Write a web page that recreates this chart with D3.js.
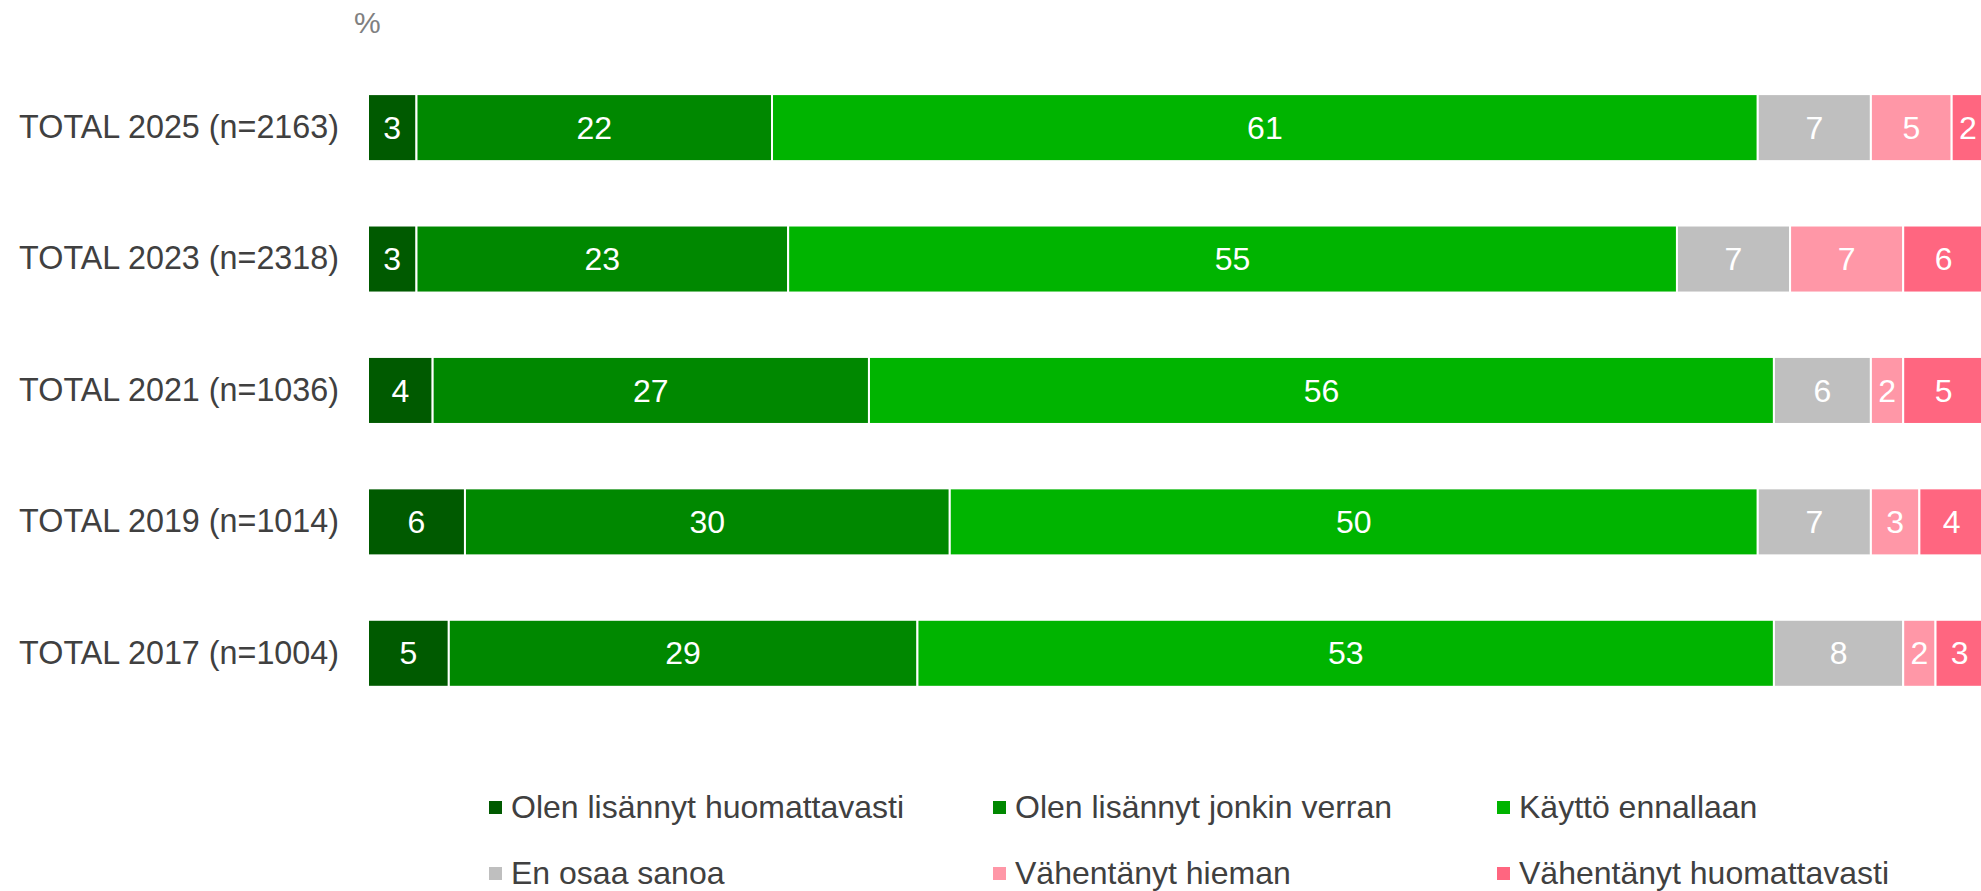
<!DOCTYPE html>
<html><head><meta charset="utf-8">
<script src="https://cdn.jsdelivr.net/npm/d3@7"></script>
<style>html,body{margin:0;padding:0;background:#fff;overflow:hidden}svg{display:block;font-family:"Liberation Sans",Arial,sans-serif}</style>
</head><body>
<svg id="chart" width="1981" height="891"></svg>
<script>
const categories = ["TOTAL 2025 (n=2163)","TOTAL 2023 (n=2318)","TOTAL 2021 (n=1036)","TOTAL 2019 (n=1014)","TOTAL 2017 (n=1004)"];
const seriesNames = ["Olen lisännyt huomattavasti","Olen lisännyt jonkin verran","Käyttö ennallaan","En osaa sanoa","Vähentänyt hieman","Vähentänyt huomattavasti"];
const increasedALot   = [3, 3, 4, 6, 5];
const increasedSome   = [22, 23, 27, 30, 29];
const unchanged       = [61, 55, 56, 50, 53];
const dontKnow        = [7, 7, 6, 7, 8];
const decreasedSome   = [5, 7, 2, 3, 2];
const decreasedALot   = [2, 6, 5, 4, 3];
const colors = ["#005a00","#008800","#00b400","#bfbfbf","#ff97a7","#ff6680"];

const seriesValues = [increasedALot, increasedSome, unchanged, dontKnow, decreasedSome, decreasedALot];
const rows = categories.map((c,i)=>{const o={cat:c}; seriesNames.forEach((s,j)=>o[s]=seriesValues[j][i]); return o;});
const stack = d3.stack().keys(seriesNames);
const layers = stack(rows);

const svg = d3.select("#chart");
const x = d3.scaleLinear().domain([0,100]).range([368,1984]).clamp(true);
const y = d3.scaleBand().domain(categories).range([61.9,719]).paddingInner(0.49).paddingOuter(0.245);

svg.append("text").attr("x",354).attr("y",33).attr("fill","#808080").attr("font-size",30).text("%");

const g = svg.append("g");
layers.forEach((layer,j)=>{
  const lg = g.append("g");
  lg.selectAll("rect").data(layer).join("rect")
    .attr("x",d=>x(d[0])).attr("y",d=>y(d.data.cat))
    .attr("width",d=>x(d[1])-x(d[0])).attr("height",y.bandwidth())
    .attr("fill",colors[j]).attr("stroke","#fff").attr("stroke-width",2);
  lg.selectAll("text").data(layer).join("text")
    .attr("x",d=>(x(d[0])+x(d[1]))/2).attr("y",d=>y(d.data.cat)+y.bandwidth()/2)
    .attr("dy","0.35em").attr("text-anchor","middle").attr("fill","#fff").attr("font-size",32)
    .text(d=>d.data[layer.key]);
});

const yAxis = svg.append("g").attr("transform","translate(339,0)")
  .call(d3.axisLeft(y).tickSize(0).tickPadding(0));
yAxis.select(".domain").remove();
yAxis.selectAll("text").attr("font-size",32.3).attr("fill","#404040").attr("font-family","Liberation Sans, Arial, sans-serif");

const legX = [489, 993, 1497];
const legY = [807, 873];
const leg = svg.append("g");
seriesNames.forEach((s,i)=>{
  const lx = legX[i%3], ly = legY[Math.floor(i/3)];
  leg.append("rect").attr("x",lx).attr("y",ly-6).attr("width",13).attr("height",13).attr("fill",colors[i]);
  leg.append("text").attr("x",lx+22).attr("y",ly).attr("dy","0.35em").attr("font-size",32).attr("fill","#404040").text(s);
});
</script>
</body></html>
